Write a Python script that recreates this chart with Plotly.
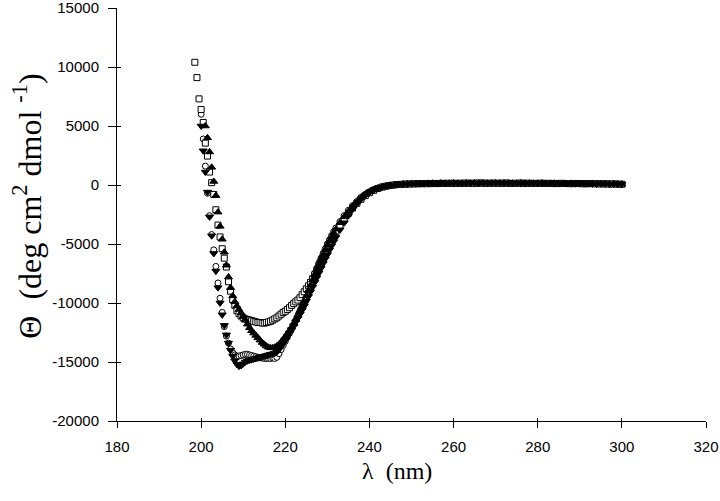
import plotly.graph_objects as go


# ==========================================================
# DATA
# ==========================================================

# wavelength grid (nm): 0.5 nm steps up to 232, then 1 nm steps
wl_fine = [198.5 + 0.5 * i for i in range(68)]
wl_coarse = list(range(233, 301))
wavelength = wl_fine + wl_coarse

squares_fine = [
    10400, 9100, 7300, 6400, 5300, 3550, 2450, 1100, 200, -800,
    -2100, -3400, -4400, -5400, -6200, -6950, -8200, -9000, -9700, -10200,
    -10650, -10900, -11100, -11250, -11350, -11400, -11450, -11500, -11550, -11600,
    -11650, -11650, -11700, -11700, -11650, -11600, -11550, -11450, -11350, -11250,
    -11100, -10950, -10800, -10700, -10550, -10400, -10200, -10050, -9900, -9750,
    -9550, -9300, -9050, -8800, -8550, -8250, -7950, -7600, -7250, -6850,
    -6450, -6100, -5700, -5350, -5000, -4650, -4350, -4050
]
squares_coarse = [
    -3450, -2900, -2400, -1950, -1550, -1200, -900, -650, -450, -300,
    -180, -100, -40, 10, 40, 60, 80, 90,
    100, 110, 120, 110, 130, 120, 140, 130, 150, 140,
    130, 150, 160, 140, 150, 170, 150, 140, 160, 150,
    140, 160, 150, 130, 150, 160, 140, 150, 130, 140,
    150, 130, 140, 120, 130, 140, 120, 110, 130, 120,
    100, 110, 120, 100, 90, 100, 80, 90, 70, 60
]

circles_fine = [
    None, None, None, 6000, 3900, 1600, -700, -2600, -4200, -5500,
    -6900, -8300, -9600, -10800, -12000, -12800, -13400, -13900, -14200, -14400,
    -14500, -14500, -14450, -14400, -14350, -14350, -14400, -14450, -14500, -14550,
    -14600, -14650, -14650, -14700, -14700, -14700, -14700, -14650, -14700, -14600,
    -14300, -13950, -13600, -13250, -12900, -12550, -12200, -11850, -11450, -11050,
    -10650, -10200, -9750, -9300, -8850, -8400, -7950, -7500, -7050, -6600,
    -6200, -5800, -5400, -5000, -4650, -4300, -3950, -3650
]
circles_coarse = [
    -3100, -2600, -2150, -1750, -1400, -1050, -800, -580, -400, -260,
    -150, -70, -10, 30, 60, 70, 90, 100,
    110, 100, 130, 120, 140, 130, 120, 150, 140, 160,
    150, 140, 130, 160, 150, 140, 170, 160, 150, 140,
    160, 150, 170, 140, 150, 130, 160, 140, 150, 130,
    140, 120, 150, 130, 120, 140, 110, 130, 120, 100,
    120, 110, 90, 100, 110, 90, 80, 100, 70, 80
]

tri_up_fine = [
    None, None, None, None, None, 5000, 4000, 2800, 1500, 300,
    -900, -2300, -3500, -4600, -5700, -6800, -7800, -8700, -9400, -9900,
    -10250, -10550, -10850, -11150, -11450, -11800, -12100, -12350, -12550, -12750,
    -12950, -13150, -13350, -13500, -13650, -13750, -13800, -13800, -13750, -13650,
    -13500, -13300, -13100, -12850, -12600, -12350, -12050, -11750, -11400, -11050,
    -10650, -10250, -9850, -9400, -8950, -8500, -8050, -7600, -7150, -6700,
    -6300, -5900, -5500, -5100, -4750, -4400, -4050, -3750
]
tri_up_coarse = [
    -3200, -2700, -2250, -1800, -1450, -1100, -820, -600, -420, -280,
    -170, -90, -30, 20, 50, 80, 90, 110,
    120, 130, 110, 140, 150, 130, 160, 150, 140, 170,
    160, 150, 170, 160, 180, 150, 170, 160, 150, 180,
    160, 170, 150, 160, 140, 170, 150, 160, 140, 150,
    160, 140, 130, 150, 140, 130, 120, 140, 130, 110,
    120, 100, 110, 120, 100, 90, 100, 80, 90, 70
]

tri_down_fine = [
    None, None, None, 5000, 2900, 1100, -600, -2700, -4300, -5800,
    -7300, -8700, -10000, -11000, -11900, -12700, -13400, -14000, -14500, -14900,
    -15200, -15350, -15300, -15150, -15000, -14900, -14850, -14800, -14750, -14700,
    -14650, -14600, -14550, -14500, -14450, -14400, -14350, -14300, -14250, -14150,
    -13950, -13700, -13450, -13150, -12850, -12550, -12250, -11950, -11600, -11300,
    -10950, -10600, -10250, -9850, -9450, -9050, -8650, -8250, -7850, -7450,
    -7050, -6650, -6250, -5900, -5500, -5150, -4800, -4450
]
tri_down_coarse = [
    -3800, -3200, -2600, -2050, -1600, -1200, -880, -620, -420, -270,
    -160, -80, -20, 20, 50, 70, 80, 100,
    110, 120, 100, 130, 120, 140, 130, 150, 140, 130,
    160, 150, 140, 160, 170, 150, 160, 140, 170, 150,
    160, 150, 140, 170, 160, 150, 140, 160, 150, 130,
    150, 140, 130, 150, 120, 130, 140, 120, 110, 130,
    110, 120, 100, 90, 110, 100, 80, 90, 80, 70
]

x_ticks = [180, 200, 220, 240, 260, 280, 300, 320]
y_ticks = [15000, 10000, 5000, 0, -5000, -10000, -15000, -20000]
y_tick_text = ["15000", "10000", "5000", "0", "-5000", "-10000", "-15000", "-20000"]

# open markers first, filled ones drawn on top
series = [
    ("circles", circles_fine + circles_coarse, "circle", 6, "white"),
    ("squares", squares_fine + squares_coarse, "square", 6, "white"),
    ("tri-up", tri_up_fine + tri_up_coarse, "triangle-up", 7, "black"),
    ("tri-down", tri_down_fine + tri_down_coarse, "triangle-down", 7, "black"),
]

for name, vals, sym, size, fill in series:
    assert len(vals) == len(wavelength), name


# ==========================================================
# CD SPECTRUM SCATTER
# ==========================================================

fig = go.Figure()

for name, vals, sym, size, fill in series:
    fig.add_trace(
        go.Scatter(
            x=wavelength,
            y=vals,
            mode="markers",
            name=name,
            marker=dict(
                symbol=sym,
                size=size,
                color=fill,
                line=dict(color="black", width=1)
            )
        )
    )

# empty trace so the overlay axes (inner half of the crossing ticks) get drawn
fig.add_trace(
    go.Scatter(x=[], y=[], xaxis="x2", yaxis="y2", hoverinfo="skip")
)

axis_font = dict(family="Liberation Sans, Arial", size=15, color="black")

common_x = dict(range=[180, 320], tickvals=x_ticks, showgrid=False, zeroline=False)
common_y = dict(range=[-20000, 15000], tickvals=y_ticks, showgrid=False, zeroline=False)

fig.update_layout(
    xaxis=dict(
        **common_x,
        ticks="outside",
        ticklen=6,
        tickcolor="black",
        ticklabelstandoff=6,
        ticklabeloverflow="allow",
        showline=True,
        linecolor="black",
        linewidth=1,
        automargin=False,
        tickfont=axis_font
    ),
    yaxis=dict(
        **common_y,
        ticktext=y_tick_text,
        ticks="outside",
        ticklen=8,
        tickcolor="black",
        ticklabelstandoff=6,
        ticklabeloverflow="allow",
        showline=True,
        linecolor="black",
        linewidth=1,
        automargin=False,
        tickfont=axis_font
    ),
    xaxis2=dict(
        **common_x,
        overlaying="x",
        anchor="y2",
        side="bottom",
        ticks="inside",
        ticklen=3,
        tickcolor="black",
        showticklabels=False,
        showline=False,
        automargin=False
    ),
    yaxis2=dict(
        **common_y,
        overlaying="y",
        anchor="x2",
        side="left",
        ticks="inside",
        ticklen=4,
        tickcolor="black",
        showticklabels=False,
        showline=False,
        automargin=False
    )
)

fig.add_annotation(
    text="\u03bb  (nm)",
    xref="paper", yref="paper",
    x=0.476, y=-0.122,
    xanchor="center", yanchor="middle",
    showarrow=False,
    font=dict(family="Liberation Serif, Times New Roman", size=24, color="black")
)

fig.add_annotation(
    text="\u0398  (deg cm<sup>2</sup> dmol <sup>-1</sup>)",
    xref="paper", yref="paper",
    x=-0.152, y=0.52,
    xanchor="center", yanchor="middle",
    textangle=-90,
    showarrow=False,
    font=dict(family="Liberation Serif, Times New Roman", size=32, color="black")
)

fig.update_layout(
    width=720,
    height=501,
    margin=dict(l=117, r=14, t=8, b=80),
    plot_bgcolor="white",
    paper_bgcolor="white",
    showlegend=False
)

fig.write_html(
    "out.html",
    config={"displayModeBar": False},
    post_script="document.body.style.margin='0px';"
)
